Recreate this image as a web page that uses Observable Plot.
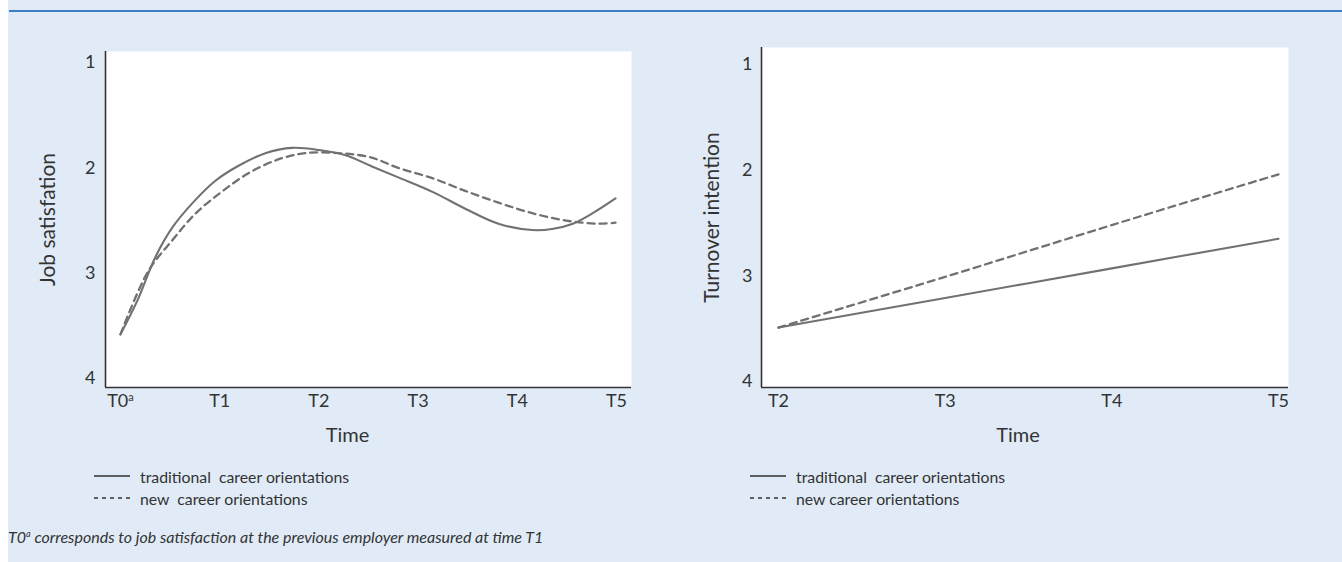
<!DOCTYPE html>
<html>
<head>
<meta charset="utf-8">
<script src="https://cdn.jsdelivr.net/npm/d3@7"></script>
<script src="https://cdn.jsdelivr.net/npm/@observablehq/plot@0.6"></script>
<style>
  html, body { margin: 0; padding: 0; background: #ffffff; }
  #page { position: relative; width: 1342px; height: 562px; overflow: hidden; font-family: Lato, "Open Sans", sans-serif; color: #333; }
  #bg { position: absolute; left: 8px; top: 0; right: 0; bottom: 0; background: #e0ebf7; }
  #rule { position: absolute; left: 9px; right: 0; top: 10px; height: 2px; background: #3b7fc2; }
  .panel { position: absolute; top: 0; }
  .legend { position: absolute; font-size: 15.8px; color: #333; white-space: pre; }
  .legend .row { position: absolute; left: 0; height: 22px; display: flex; align-items: center; }
  .legend svg { margin-right: 10px; }
  #note { position: absolute; left: 8px; top: 527px; font-size: 16px; font-style: italic; color: #333; white-space: pre; }
  #note sup { font-size: 9px; }
</style>
</head>
<body>
<div id="page">
  <div id="bg"></div>
  <div id="rule"></div>
  <div id="left" class="panel" style="left:0px"></div>
  <div id="right" class="panel" style="left:680px"></div>
  <div id="legendL" class="legend" style="left:94px; top:465px"></div>
  <div id="legendR" class="legend" style="left:750px; top:465px"></div>
  <div id="note"></div>
</div>
<script>
// ---- data ----
const jobTicks = ["T0", "T1", "T2", "T3", "T4", "T5"];
const jobTradTime = [0.00, 0.17, 0.35, 0.52, 0.73, 0.96, 1.19, 1.46, 1.73, 2.00, 2.27, 2.52, 2.80, 3.15, 3.48, 3.81, 4.15, 4.35, 4.56, 4.76, 4.99];
const jobTradValue = [3.58, 3.26, 2.85, 2.57, 2.33, 2.12, 1.98, 1.86, 1.81, 1.83, 1.88, 1.98, 2.09, 2.23, 2.39, 2.53, 2.59, 2.58, 2.53, 2.43, 2.29];
const jobNewTime = [0.00, 0.28, 0.52, 0.76, 1.03, 1.29, 1.59, 1.86, 2.20, 2.52, 2.80, 3.15, 3.48, 3.81, 4.15, 4.49, 4.82, 4.99];
const jobNewValue = [3.58, 2.98, 2.69, 2.43, 2.22, 2.05, 1.92, 1.86, 1.86, 1.90, 2.00, 2.10, 2.22, 2.33, 2.43, 2.50, 2.53, 2.52];

const turnTicks = ["T2", "T3", "T4", "T5"];
const turnTime = [2, 3, 4, 5];
const turnTradValue = [3.49, 3.21, 2.93, 2.65];
const turnNewValue = [3.49, 3.01, 2.52, 2.04];

const yTicks = [1, 2, 3, 4];
const seriesNames = ["traditional  career orientations", "new  career orientations"];
const seriesNamesRight = ["traditional  career orientations", "new career orientations"];
const yTitleLeft = "Job satisfation";
const yTitleRight = "Turnover intention";
const xTitle = "Time";

// ---- build tables ----
const jobTrad = jobTradTime.map((t, i) => ({t, v: jobTradValue[i]}));
const jobNew = jobNewTime.map((t, i) => ({t, v: jobNewValue[i]}));
const turnTrad = turnTime.map((t, i) => ({t, v: turnTradValue[i]}));
const turnNew = turnTime.map((t, i) => ({t, v: turnNewValue[i]}));

const ink = "#333333";
const lineGray = "#717171";
const font = "Lato, 'Open Sans', sans-serif";

function panel({width, marginLeft, marginRight, marginTop, xDomain, yDomain, xTickVals, xTickFmt, trad, neu, yTitle, yTitleDx, xTitleDx, yPad}) {
  const svg = Plot.plot({
    width, height: 460,
    marginLeft, marginRight, marginTop, marginBottom: 73,
    style: {background: "transparent", color: ink, fontFamily: font, fontSize: "18px", overflow: "visible"},
    x: {domain: xDomain},
    y: {domain: yDomain, reverse: true},
    marks: [
      Plot.frame({fill: "white", stroke: "none"}),
      Plot.line(trad, {x: "t", y: "v", stroke: lineGray, strokeWidth: 2.1, curve: "catmull-rom"}),
      Plot.line(neu, {x: "t", y: "v", stroke: lineGray, strokeWidth: 2.3, strokeDasharray: "7,5", curve: "catmull-rom"}),
      Plot.ruleX([xDomain[0]], {stroke: ink, strokeWidth: 1.6}),
      Plot.ruleY([yDomain[1]], {stroke: ink, strokeWidth: 1.6}),
      Plot.axisY(yTicks, {tickSize: 0, tickPadding: yPad, tickFormat: d => String(d), label: null}),
      Plot.axisX(xTickVals, {tickSize: 0, tickPadding: 7, tickFormat: xTickFmt, label: null}),
      Plot.text([yTitle], {text: d => d, frameAnchor: "left", textAnchor: "middle", dx: yTitleDx, rotate: -90, fontSize: 21, fill: ink}),
      Plot.text([xTitle], {text: d => d, frameAnchor: "bottom", textAnchor: "middle", dy: 54, dx: xTitleDx, fontSize: 20, fill: ink})
    ]
  });
  svg.querySelectorAll("text").forEach(t => {
    const s = t.textContent;
    if (s !== yTitle && s !== xTitle) t.style.fontSize = "18px";
  });
  return svg;
}

const left = panel({
  width: 670, marginLeft: 105, marginRight: 39, marginTop: 51,
  xDomain: [-0.151, 5.151], yDomain: [0.895, 4.085],
  xTickVals: [0, 1, 2, 3, 4, 5], xTickFmt: i => jobTicks[i],
  trad: jobTrad, neu: jobNew, yTitle: yTitleLeft, yTitleDx: -57, xTitleDx: -21, yPad: 10
});
// superscript "a" on T0
left.querySelectorAll("text").forEach(t => {
  if (t.textContent === "T0") {
    const ts = document.createElementNS("http://www.w3.org/2000/svg", "tspan");
    ts.setAttribute("font-size", "11");
    ts.setAttribute("dy", "-6");
    ts.textContent = "a";
    t.appendChild(ts);
  }
});
document.getElementById("left").appendChild(left);

const right = panel({
  width: 662, marginLeft: 81, marginRight: 54, marginTop: 47,
  xDomain: [1.898, 5.06], yDomain: [0.84, 4.057],
  xTickVals: turnTime, xTickFmt: d => turnTicks[turnTime.indexOf(d)],
  trad: turnTrad, neu: turnNew, yTitle: yTitleRight, yTitleDx: -49, xTitleDx: -7, yPad: 9
});
document.getElementById("right").appendChild(right);

// ---- legends ----
function legend(id, names) {
  const el = document.getElementById(id);
  names.forEach((name, i) => {
    const row = document.createElement("div");
    row.className = "row";
    row.style.top = (i * 22) + "px";
    const dash = i === 0 ? null : "4,4";
    row.innerHTML = `<svg width="36" height="6"><line x1="0" x2="36" y1="3" y2="3" stroke="${ink}" stroke-width="1.4" ${dash ? `stroke-dasharray="${dash}"` : ""}/></svg><span>${name}</span>`;
    el.appendChild(row);
  });
}
legend("legendL", seriesNames);
legend("legendR", seriesNamesRight);

document.getElementById("note").innerHTML = "T0<sup>a</sup> corresponds to job satisfaction at the previous employer measured at time T1";
</script>
</body>
</html>
